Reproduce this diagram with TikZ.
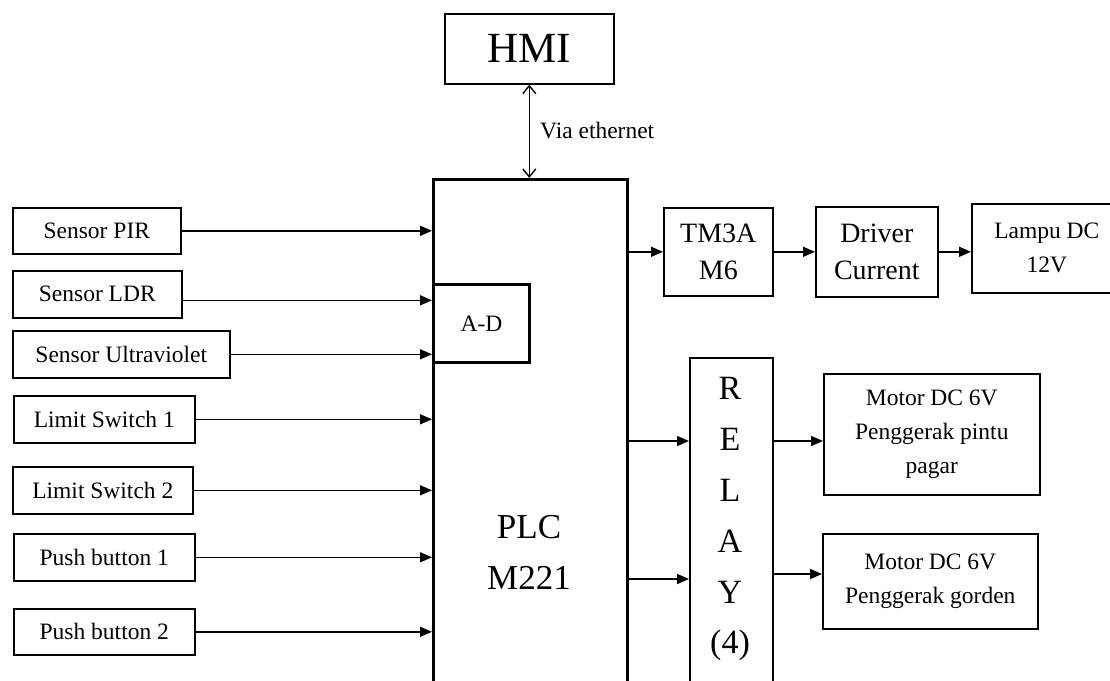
\documentclass[tikz,border=0pt]{standalone}
\usepackage{fontspec}
\setmainfont{Liberation Serif}
\usetikzlibrary{arrows.meta}
\begin{document}
\begin{tikzpicture}[x=1pt,y=-1pt,
  box/.style={draw, line width=1.6pt, anchor=north west, inner sep=0pt, align=center},
  thickbox/.style={draw, line width=3pt, anchor=north west, inner sep=0pt, align=center},
  arr/.style={line width=1.6pt, -{Triangle[length=12pt,width=10pt]}},
  small/.style={font=\fontsize{23.5}{34}\selectfont},
  mid/.style={font=\fontsize{28}{39}\selectfont},
  big/.style={font=\fontsize{35}{51}\selectfont},
  letter/.style={font=\fontsize{34}{40}\selectfont, anchor=base, inner sep=0pt}
]
\useasboundingbox (0,0) rectangle (1110,680);

% HMI
\node[box, minimum width=169pt, minimum height=70pt, font=\fontsize{43}{50}\selectfont] (hmi) at (444,13) {HMI};

% PLC
\node[thickbox, minimum width=194pt, minimum height=540pt] (plc) at (432,178) {};
\node[big, anchor=base, inner sep=0pt] (plc1) at (529,538) {PLC};
\node[big, anchor=base, inner sep=0pt] (plc2) at (529,589) {M221};
\node[thickbox, fill=white, minimum width=96pt, minimum height=78pt, small] (ad) at (432,283) {A-D};

% HMI link
\draw[line width=1.4pt, {Straight Barb[length=8pt,width=13pt]}-{Straight Barb[length=8pt,width=13pt]}] (hmi.south) -- (hmi.south |- plc.north);
\node[small, anchor=base west, inner sep=0pt] (eth) at (540,138) {Via ethernet};

% Inputs
\node[box, small, minimum width=168pt, minimum height=46pt] (pir) at (12,207) {Sensor PIR};
\node[box, small, minimum width=169pt, minimum height=47pt] (ldr) at (12,270) {Sensor LDR};
\node[box, small, minimum width=217pt, minimum height=47pt] (uv) at (12,330) {Sensor Ultraviolet};
\node[box, small, minimum width=181pt, minimum height=47pt] (ls1) at (13,395) {Limit Switch 1};
\node[box, small, minimum width=180pt, minimum height=47pt] (ls2) at (12,466) {Limit Switch 2};
\node[box, small, minimum width=181pt, minimum height=47pt] (pb1) at (13,533) {Push button 1};
\node[box, small, minimum width=181pt, minimum height=46pt] (pb2) at (13,608) {Push button 2};

\draw[arr] (pir.east) -- (pir.east -| plc.west);
\path ([yshift=-6pt]ldr.east) coordinate (ldrout);
\draw[arr] (ldrout) -- (ldrout -| plc.west);
\draw[arr] (uv.east) -- (uv.east -| plc.west);
\draw[arr] (ls1.east) -- (ls1.east -| plc.west);
\draw[arr] (ls2.east) -- (ls2.east -| plc.west);
\draw[arr] (pb1.east) -- (pb1.east -| plc.west);
\draw[arr] (pb2.east) -- (pb2.east -| plc.west);

% Upper output chain
\node[box, mid, minimum width=109pt, minimum height=88pt] (tm) at (663,207) {TM3A\\[-2pt]M6};
\node[box, mid, minimum width=122pt, minimum height=90pt] (drv) at (815,206) {Driver\\[-2pt]Current};
\node[box, small, minimum width=150pt, minimum height=89pt] (lamp) at (971,203) {Lampu DC\\12V};
\draw[arr] (tm.west -| plc.east) -- (tm.west);
\draw[arr] (tm.east) -- (drv.west);
\draw[arr] (drv.east) -- (drv.east -| lamp.west);

% Relay
\node[box, minimum width=83pt, minimum height=350pt] (relay) at (689,357) {};
\node[letter] (rR) at (730,399) {R};
\node[letter] (rE) at (730,450) {E};
\node[letter] (rL) at (730,501) {L};
\node[letter] (rA) at (730,552) {A};
\node[letter] (rY) at (730,603) {Y};
\node[letter] (r4) at (730,653) {(4)};

\coordinate (o1) at (626,441);
\coordinate (o2) at (626,579);
\coordinate (o3) at (772,574);
\draw[arr] (o1) -- (o1 -| relay.west);
\draw[arr] (o2) -- (o2 -| relay.west);

% Motors
\node[box, small, minimum width=216pt, minimum height=121pt] (m1) at (823,373) {Motor DC 6V\\Penggerak pintu\\pagar};
\node[box, small, minimum width=215pt, minimum height=95pt] (m2) at (822,533) {Motor DC 6V\\Penggerak gorden};
\draw[arr] (o1 -| relay.east) -- (o1 -| m1.west);
\draw[arr] (o3) -- (o3 -| m2.west);
\end{tikzpicture}
\end{document}
